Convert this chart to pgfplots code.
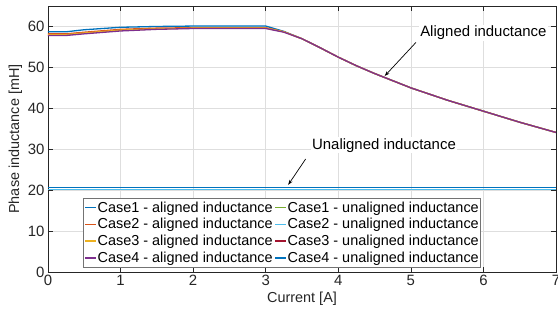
\documentclass[border=0pt]{standalone}
\usepackage{pgfplots}
\pgfplotsset{compat=1.18}
\usepackage{fontspec}
\setmainfont{Liberation Sans}
\usetikzlibrary{arrows.meta}

% MATLAB default line colours
\definecolor{mblue}{RGB}{0,114,189}
\definecolor{morange}{RGB}{217,83,25}
\definecolor{myellow}{RGB}{237,177,32}
\definecolor{mpurple}{RGB}{126,47,142}
\definecolor{mgreen}{RGB}{119,172,48}
\definecolor{mcyan}{RGB}{77,190,238}
\definecolor{mred}{RGB}{162,20,47}
\definecolor{axisgray}{RGB}{38,38,38}

\begin{document}
\begin{tikzpicture}
\begin{axis}[
  at={(0,0)}, anchor=south west,
  scale only axis,
  width=508bp, height=266bp,
  xmin=0, xmax=7, ymin=0, ymax=65,
  xtick={0,1,...,7}, ytick={0,10,...,60},
  font=\fontsize{14.5}{16}\selectfont,
  /pgf/number format/assume math mode=true,
  tick align=inside,
  major tick length=5bp,
  axis line style={axisgray, line width=0.7bp},
  tick style={axisgray, line width=0.7bp},
  every tick label/.append style={text=axisgray, font=\fontsize{15}{16}\selectfont},
  grid=major,
  major grid style={line width=0.6bp, color=black!13},
  xlabel={Current [A]},
  ylabel={Phase inductance [mH]},
  xlabel style={text=axisgray, yshift=1bp},
  ylabel style={text=axisgray, yshift=-1bp},
  every axis plot/.append style={line width=1.3bp, mark=none},
  legend columns=2,
  legend cell align=left,
  legend image code/.code={\draw[line width=1.5bp, #1] (0bp,0bp) -- (10.5bp,0bp);},
  legend style={
    at={(0.069,0.015)}, anchor=south west,
    font=\fontsize{14.5}{16}\selectfont,
    draw=black!55, line width=1.1bp, fill=white,
    inner xsep=1bp, inner ysep=1.5bp,
    row sep=0.8bp,
    /tikz/every even column/.append style={column sep=1bp},
    nodes={fill=none, draw=none, inner xsep=1bp, inner ysep=2bp},
  },
  legend plot pos=left,
  clip=true,
]
% aligned inductance
\addplot[mblue, forget plot] coordinates {(0,58.7)(0.25,58.7)(0.5,59.2)(1,59.8)(1.5,60.0)(2,60.1)(2.5,60.1)(3,60.1)
  (3.25,58.8)(3.5,57.0)(3.75,54.8)(4,52.5)(4.25,50.4)(4.5,48.5)(5,45.0)(5.5,42.0)(6,39.3)(6.5,36.6)(7,34.1)};
\addplot[morange, forget plot] coordinates {(0,58.2)(0.25,58.2)(0.5,58.6)(1,59.3)(1.5,59.6)(2,59.7)(2.5,59.7)(3,59.7)
  (3.25,58.7)(3.5,57.0)(3.75,54.8)(4,52.5)(4.25,50.4)(4.5,48.5)(5,45.0)(5.5,42.0)(6,39.3)(6.5,36.6)(7,34.1)};
\addplot[myellow, forget plot] coordinates {(0,58.0)(0.25,58.0)(0.5,58.4)(1,59.1)(1.5,59.4)(2,59.6)(2.5,59.6)(3,59.6)
  (3.25,58.7)(3.5,57.0)(3.75,54.8)(4,52.5)(4.25,50.4)(4.5,48.5)(5,45.0)(5.5,42.0)(6,39.3)(6.5,36.6)(7,34.1)};
\addplot[mpurple, forget plot] coordinates {(0,57.8)(0.25,57.8)(0.5,58.2)(1,58.9)(1.5,59.3)(2,59.5)(2.5,59.5)(3,59.5)
  (3.25,58.6)(3.5,57.0)(3.75,54.8)(4,52.5)(4.25,50.4)(4.5,48.5)(5,45.0)(5.5,42.0)(6,39.3)(6.5,36.6)(7,34.1)};
% unaligned inductance
\addplot[mgreen, forget plot] coordinates {(0,20.1)(1,20.1)(2,20.1)(3,20.1)(4,20.1)(5,20.1)(6,20.1)(7,20.1)};
\addplot[mcyan, forget plot] coordinates {(0,20.1)(1,20.1)(2,20.1)(3,20.1)(4,20.1)(5,20.1)(6,20.1)(7,20.1)};
\addplot[mred, forget plot] coordinates {(0,20.6)(1,20.6)(2,20.6)(3,20.6)(4,20.6)(5,20.6)(6,20.6)(7,20.6)};
\addplot[mblue, forget plot] coordinates {(0,20.6)(1,20.6)(2,20.6)(3,20.6)(4,20.6)(5,20.6)(6,20.6)(7,20.6)};

% legend, filled row by row
\addlegendimage{draw=mblue}\addlegendentry{Case1 - aligned inductance}
\addlegendimage{draw=mgreen}\addlegendentry{Case1 - unaligned inductance}
\addlegendimage{draw=morange}\addlegendentry{Case2 - aligned inductance}
\addlegendimage{draw=mcyan}\addlegendentry{Case2 - unaligned inductance}
\addlegendimage{draw=myellow}\addlegendentry{Case3 - aligned inductance}
\addlegendimage{draw=mred}\addlegendentry{Case3 - unaligned inductance}
\addlegendimage{draw=mpurple}\addlegendentry{Case4 - aligned inductance}
\addlegendimage{draw=mblue}\addlegendentry{Case4 - unaligned inductance}

% annotations
\node[font=\fontsize{15}{16}\selectfont, text=black, fill=white, inner sep=1bp] at (axis cs:6.0,58.5) {Aligned inductance};
\draw[-{Stealth[length=5bp,width=3.5bp]}, line width=0.7bp] (axis cs:5.07,56.1) -- (axis cs:4.64,47.9);
\node[font=\fontsize{15}{16}\selectfont, text=black, fill=white, inner sep=1bp] at (axis cs:4.63,31.0) {Unaligned inductance};
\draw[-{Stealth[length=5bp,width=3.5bp]}, line width=0.7bp] (axis cs:3.55,27.6) -- (axis cs:3.31,21.3);
\end{axis}
\pgfresetboundingbox
\useasboundingbox (-48bp,-52bp) rectangle (510bp,272bp);
\end{tikzpicture}
\end{document}
